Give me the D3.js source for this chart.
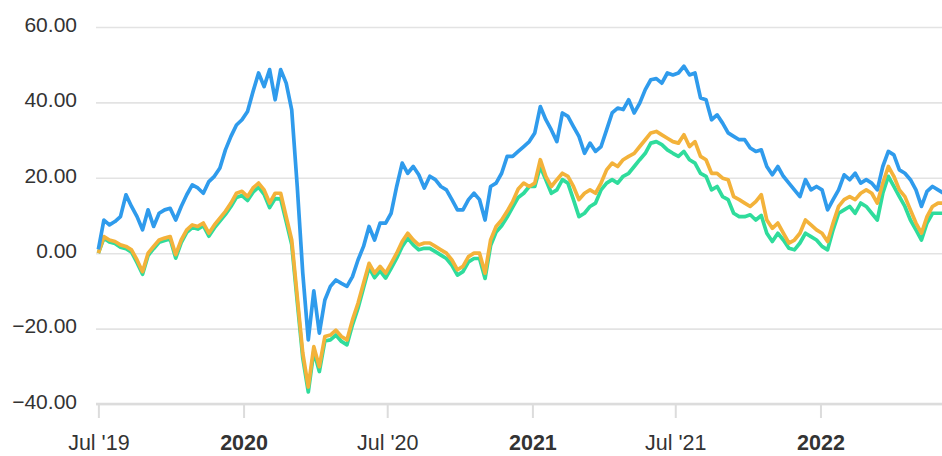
<!DOCTYPE html>
<html>
<head>
<meta charset="utf-8">
<script src="https://cdn.jsdelivr.net/npm/d3@7"></script>
<style>
    body { margin: 0; background: #fff; }
    svg text { font-family: "Liberation Sans", Arial, Helvetica, sans-serif; }
</style>
</head>
<body>
<script>
// weekly closes, first week starts Mon 1 Jul 2019
var firstWeek = "2019-07-01";

var blueValues = [
    1.0, 8.8, 7.5, 8.4, 9.7, 15.5, 12.4, 9.7, 6.2, 11.5, 7.1, 10.6, 11.5, 11.9, 8.8, 12.4, 15.5, 18.1, 17.3, 15.9, 19.0, 20.4, 22.6, 27.4, 31.0, 34.0,
    35.4, 37.6, 42.9, 47.8, 44.2, 48.7, 40.7, 48.7, 45.1, 38.0, 17.7, -5.3, -23.0, -10.0, -21.2, -12.4, -8.8, -7.1, -8.0, -8.8, -6.2, -1.8, 1.8, 7.1, 3.5, 8.0,
    8.0, 10.6, 17.7, 23.9, 21.2, 23.0, 20.8, 17.3, 20.4, 19.5, 17.7, 16.8, 14.2, 11.5, 11.5, 14.2, 15.9, 14.2, 8.8, 17.7, 18.6, 21.2, 25.7, 25.7, 27.0,
    28.3, 29.6, 31.9, 38.9, 35.4, 32.7, 29.6, 37.2, 36.3, 33.6, 31.0, 26.5, 29.2, 27.0, 28.3, 32.7, 37.2, 38.5, 38.1, 40.7, 37.2, 39.8, 43.4, 46.0, 46.3,
    45.1, 47.8, 47.3, 47.8, 49.6, 47.3, 47.8, 41.2, 40.7, 35.4, 36.7, 34.5, 31.9, 31.0, 30.1, 30.1, 27.9, 27.0, 27.4, 23.0, 20.8, 23.0, 20.4, 18.6, 16.8, 15.0,
    19.5, 16.8, 17.7, 16.8, 11.5, 14.2, 16.8, 20.8, 19.5, 21.2, 18.6, 19.5, 18.6, 16.8, 23.0, 27.0, 26.1, 22.1, 21.2, 19.5, 16.8, 12.4, 16.4, 17.7, 16.8, 15.9
];

var orangeValues = [
    0, 4.4, 3.5, 3.1, 2.2, 1.8, 0.9, -1.8, -4.9, 0, 1.8, 3.5, 4.0, 4.4, -0.4, 3.5, 6.2, 7.5, 7.1, 8.0, 5.3, 7.5, 9.3, 11.1, 13.3, 15.9,
    16.4, 15.0, 17.3, 18.6, 16.8, 13.3, 15.9, 15.9, 9.7, 3.5, -11.5, -26.5, -35.5, -24.8, -30.1, -22.1, -21.7, -20.4, -22.1, -23.0, -17.7, -13.3, -8.0, -2.7, -5.3, -3.5,
    -5.3, -2.7, 0, 3.1, 5.3, 3.5, 2.2, 2.7, 2.7, 1.8, 0.9, 0, -1.8, -4.4, -3.5, -0.9, 0, 0, -5.3, 3.5, 7.1, 8.8, 11.1, 13.7, 17.0,
    18.6, 17.7, 18.6, 24.8, 20.4, 17.7, 19.5, 21.2, 20.4, 17.7, 14.2, 15.9, 16.8, 15.9, 18.6, 22.1, 23.9, 23.0, 24.8, 25.7, 26.5, 28.3, 30.1, 31.9, 32.3,
    31.4, 30.5, 29.6, 29.2, 31.4, 28.3, 29.6, 25.7, 24.8, 21.2, 21.2, 19.9, 19.5, 15.0, 14.2, 13.3, 12.4, 13.7, 15.5, 8.8, 6.6, 8.0, 5.3, 2.7, 3.5, 5.3,
    8.8, 7.5, 6.2, 5.3, 3.1, 8.0, 12.4, 14.2, 15.0, 14.2, 15.9, 16.8, 15.9, 13.3, 18.6, 23.0, 20.4, 16.8, 15.0, 11.5, 8.0, 5.3, 9.7, 12.4, 13.3, 13.3
];

var greenValues = [
    0, 4.0, 3.0, 2.6, 1.6, 1.2, 0.3, -2.5, -5.6, -0.6, 1.2, 2.9, 3.4, 3.8, -1.3, 2.8, 5.5, 6.8, 6.4, 7.3, 4.5, 6.7, 8.5, 10.3, 12.4, 14.8,
    15.3, 14.0, 16.2, 17.5, 15.6, 12.1, 14.5, 14.4, 8.4, 2.3, -12.8, -27.8, -36.8, -26.0, -31.4, -23.3, -23.0, -21.7, -23.4, -24.3, -19.0, -14.6, -9.2, -3.8, -6.5, -4.7,
    -6.6, -4.0, -1.3, 1.8, 4.0, 2.2, 0.9, 1.3, 1.3, 0.4, -0.5, -1.4, -3.2, -5.8, -4.9, -2.3, -1.4, -1.4, -6.7, 2.0, 5.6, 7.3, 9.6, 12.2, 14.8,
    15.9, 17.7, 17.7, 23.0, 19.5, 15.9, 16.8, 19.5, 18.6, 14.2, 9.7, 10.6, 12.4, 13.3, 16.8, 18.6, 19.5, 18.6, 20.4, 21.2, 23.0, 24.8, 26.5, 29.2, 29.6,
    28.8, 27.4, 26.5, 25.7, 27.0, 24.8, 23.9, 21.2, 20.4, 16.8, 17.7, 15.0, 14.2, 10.6, 9.7, 9.7, 10.2, 8.8, 10.0, 5.3, 3.1, 5.3, 3.5, 1.3, 0.9, 2.7,
    5.3, 4.4, 3.5, 1.8, 0.9, 6.2, 10.6, 11.5, 12.4, 10.6, 13.3, 12.4, 10.6, 8.8, 15.9, 20.4, 17.7, 15.0, 12.4, 8.8, 6.2, 3.5, 8.0, 10.6, 10.6, 10.6
];

var yTicks = [-40, -20, 0, 20, 40, 60];
var xTickDates = ["2019-07-01", "2020-01-01", "2020-07-01", "2021-01-01", "2021-07-01", "2022-01-01"];
var xTickLabels = ["Jul '19", "2020", "Jul '20", "2021", "Jul '21", "2022"];

// plot box (page is 942 x 456)
var plot = {left: 96, right: 942, top: 27, bottom: 404};

var parse = d3.timeParse("%Y-%m-%d");

var x = d3.scaleTime()
    .domain([parse("2019-06-28"), parse("2022-06-04")])
    .range([plot.left, plot.right]);
var y = d3.scaleLinear().domain([-40, 60]).range([plot.bottom, plot.top]);

var svg = d3.select("body").append("svg")
    .attr("width", 942)
    .attr("height", 456);

svg.append("defs").append("clipPath").attr("id", "clip")
    .append("rect")
    .attr("x", plot.left).attr("y", 0)
    .attr("width", plot.right - plot.left).attr("height", plot.bottom);

// horizontal grid + y labels
var yAxis = d3.axisLeft(y).tickValues(yTicks)
    .tickSize(-(plot.right - plot.left))
    .tickPadding(19)
    .tickFormat(d3.format(".2f"));

var gy = svg.append("g")
    .attr("transform", "translate(" + plot.left + ",0)")
    .call(yAxis);
gy.select(".domain").remove();
gy.selectAll(".tick line").attr("stroke", "#e3e3e3").attr("stroke-width", 1.6);
gy.selectAll(".tick text")
    .attr("fill", "#333")
    .attr("dy", "0.2em")
    .style("font-size", "21px");

// x axis with the year labels in bold
var xAxis = d3.axisBottom(x)
    .tickValues(xTickDates.map(parse))
    .tickSize(14)
    .tickPadding(17)
    .tickFormat(function (d, i) { return xTickLabels[i]; });

var gx = svg.append("g")
    .attr("transform", "translate(0," + plot.bottom + ")")
    .call(xAxis);
gx.select(".domain")
    .attr("d", "M" + plot.left + ",0H" + plot.right)
    .attr("stroke", "#dcdcdc").attr("stroke-width", 2.5);
gx.selectAll(".tick line").attr("stroke", "#dcdcdc").attr("stroke-width", 2);
gx.selectAll(".tick text")
    .attr("fill", "#333")
    .style("font-size", "21.5px")
    .style("font-weight", function (d, i) { return xTickLabels[i].indexOf("Jul") === 0 ? "normal" : "bold"; });

// build the series
var start = parse(firstWeek);
function toPoints(values) {
    return values.map(function (v, i) {
        return {date: d3.timeDay.offset(start, 7 * i), value: v};
    });
}

var series = [
    {name: "green", color: "#2fdc9c", values: greenValues},
    {name: "orange", color: "#f3b23a", values: orangeValues},
    {name: "blue", color: "#2f9bec", values: blueValues}
];

var line = d3.line()
    .x(function (d) { return x(d.date); })
    .y(function (d) { return y(d.value); });

svg.append("g")
    .attr("clip-path", "url(#clip)")
    .selectAll("path")
    .data(series)
    .enter()
    .append("path")
    .attr("fill", "none")
    .attr("stroke", function (d) { return d.color; })
    .attr("stroke-width", 3.7)
    .attr("stroke-linejoin", "round")
    .attr("d", function (d) { return line(toPoints(d.values)); });
</script>
</body>
</html>
